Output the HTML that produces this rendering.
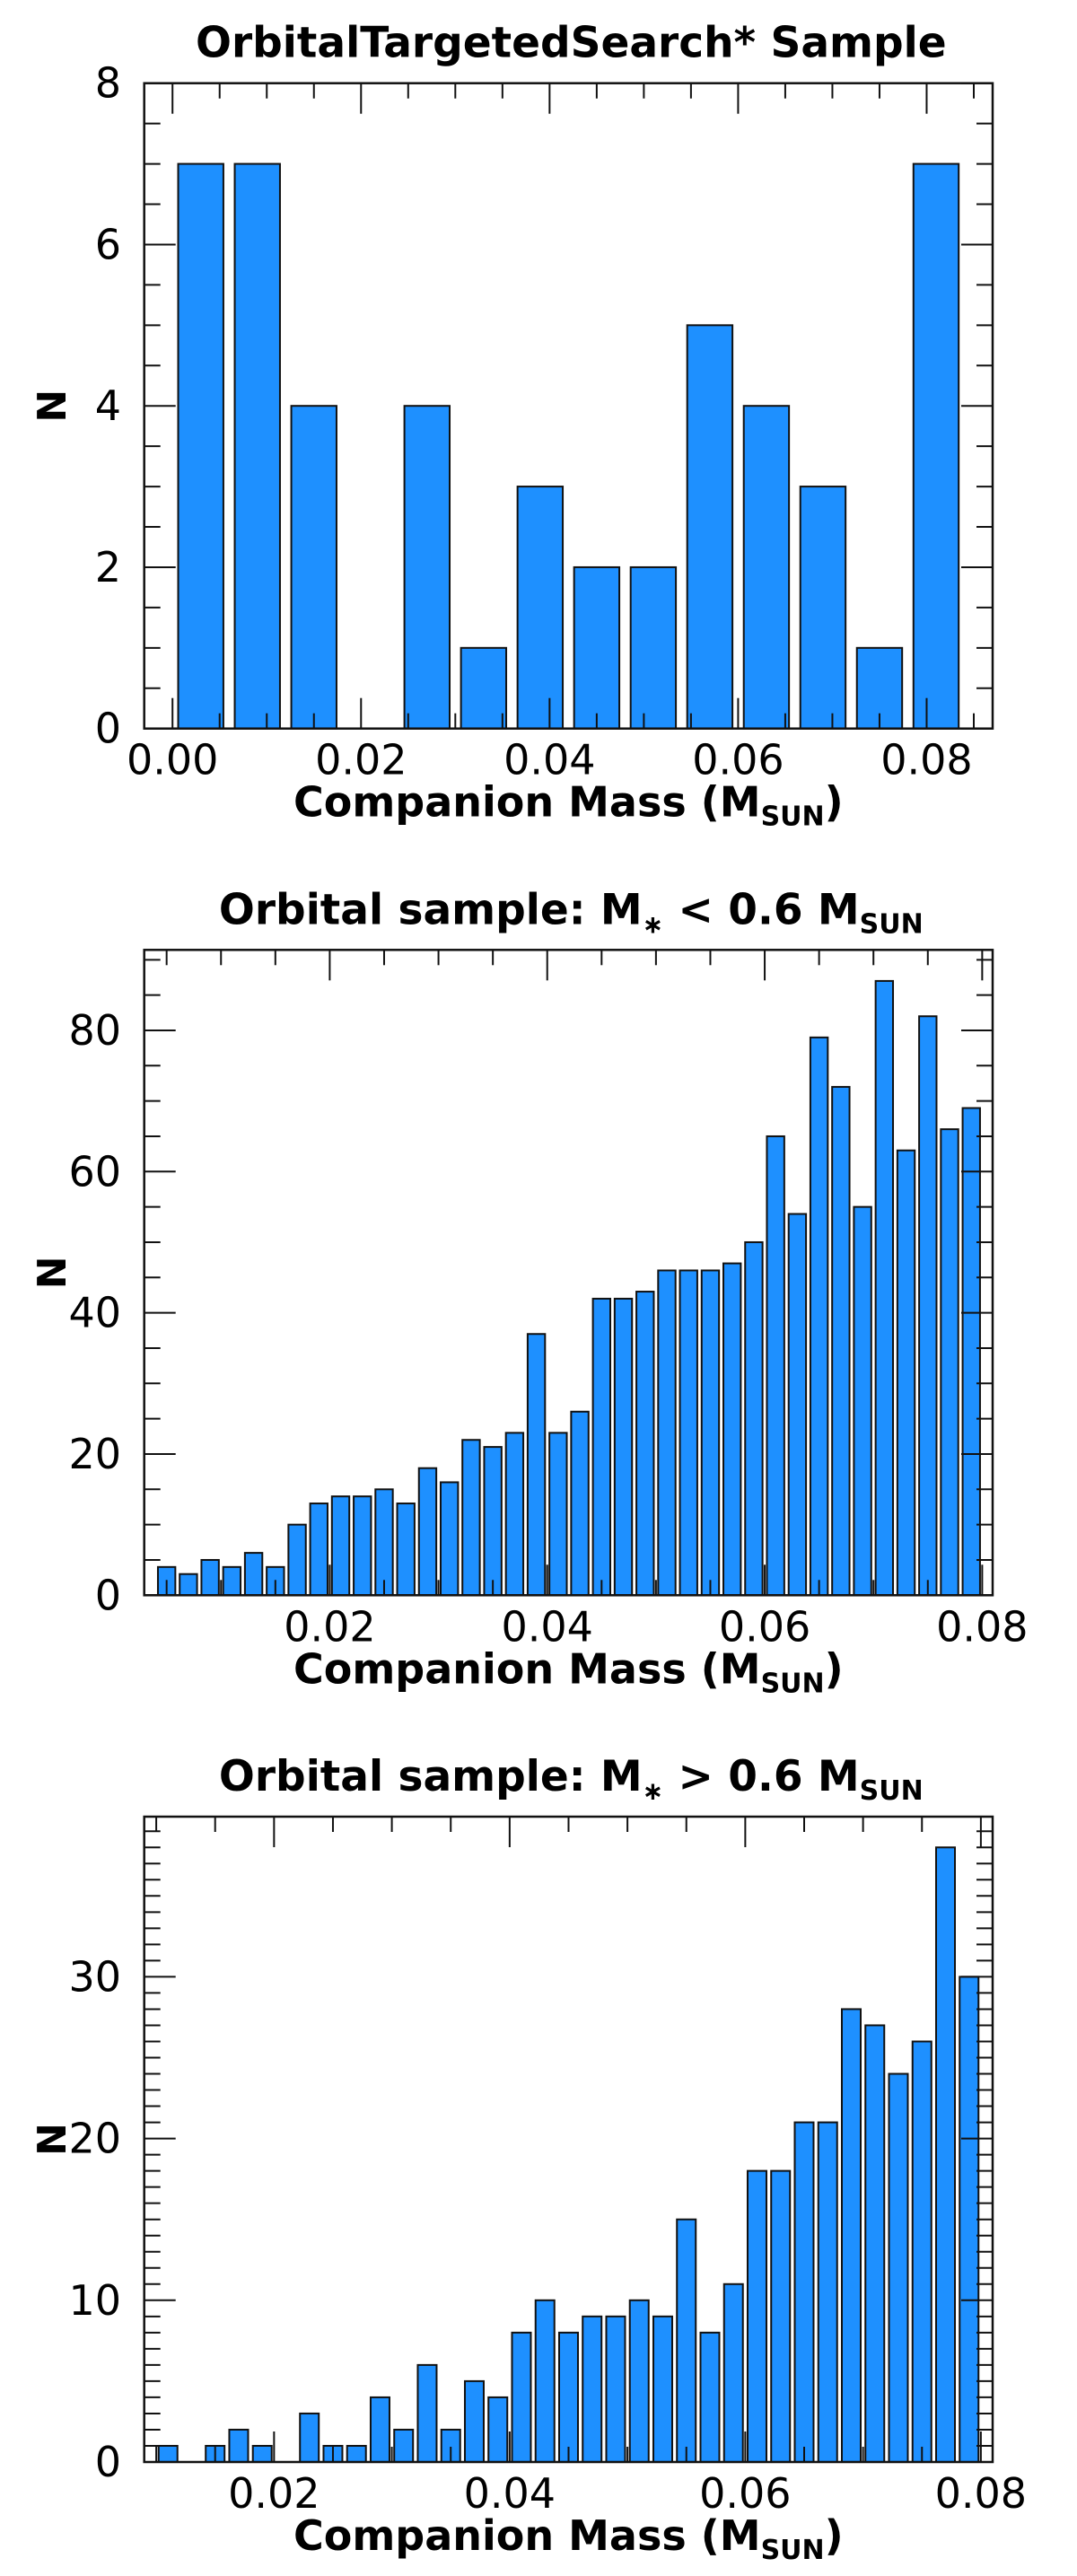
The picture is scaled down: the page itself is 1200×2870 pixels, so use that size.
<!DOCTYPE html>
<html><head><meta charset="utf-8">
<style>
html,body{margin:0;padding:0;background:#fff;}
svg{display:block;font-family:"DejaVu Sans","Liberation Sans",sans-serif;}
</style></head>
<body>
<svg id="fig" width="1200" height="2870" viewBox="0 0 1200 2870" xmlns="http://www.w3.org/2000/svg"></svg>
<script>
// Panel 1 data
const p1Centers = [0.003,0.009,0.015,0.021,0.027,0.033,0.039,0.045,0.051,0.057,0.063,0.069,0.075,0.081];
const p1Counts = [7,7,4,0,4,1,3,2,2,5,4,3,1,7];
const p1XTicks = [0.00,0.02,0.04,0.06,0.08];
const p1XTickLabels = ["0.00","0.02","0.04","0.06","0.08"];
const p1YTicks = [0,2,4,6,8];
const p1YTickLabels = ["0","2","4","6","8"];
// Panel 2 data
const p2Centers = [0.005,0.007,0.009,0.011,0.013,0.015,0.017,0.019,0.021,0.023,0.025,0.027,0.029,0.031,0.033,0.035,0.037,0.039,0.041,0.043,0.045,0.047,0.049,0.051,0.053,0.055,0.057,0.059,0.061,0.063,0.065,0.067,0.069,0.071,0.073,0.075,0.077,0.079];
const p2Counts = [4,3,5,4,6,4,10,13,14,14,15,13,18,16,22,21,23,37,23,26,42,42,43,46,46,46,47,50,65,54,79,72,55,87,63,82,66,69];
const p2XTicks = [0.02,0.04,0.06,0.08];
const p2XTickLabels = ["0.02","0.04","0.06","0.08"];
const p2YTicks = [0,20,40,60,80];
const p2YTickLabels = ["0","20","40","60","80"];
// Panel 3 data
const p3Centers = [0.011,0.013,0.015,0.017,0.019,0.021,0.023,0.025,0.027,0.029,0.031,0.033,0.035,0.037,0.039,0.041,0.043,0.045,0.047,0.049,0.051,0.053,0.055,0.057,0.059,0.061,0.063,0.065,0.067,0.069,0.071,0.073,0.075,0.077,0.079];
const p3Counts = [1,0,1,2,1,0,3,1,1,4,2,6,2,5,4,8,10,8,9,9,10,9,15,8,11,18,18,21,21,28,27,24,26,38,30];
const p3XTicks = [0.02,0.04,0.06,0.08];
const p3XTickLabels = ["0.02","0.04","0.06","0.08"];
const p3YTicks = [0,10,20,30];
const p3YTickLabels = ["0","10","20","30"];

const NS = "http://www.w3.org/2000/svg";
const svg = document.getElementById('fig');
function mk(tag, attrs, parent){
  const e = document.createElementNS(NS, tag);
  for (const k in attrs) e.setAttribute(k, attrs[k]);
  (parent||svg).appendChild(e);
  return e;
}
const L = 160.7, R = 1106, H = 719;

function panel(cfg){
  const T = cfg.top, B = T + H;
  const g = mk('g', {});
  
  
  const xs = v => L + (v - cfg.xmin) / (cfg.xmax - cfg.xmin) * (R - L);
  const ys = v => B - (v - cfg.ymin) / (cfg.ymax - cfg.ymin) * H;
  cfg.centers.forEach((c, i) => {
    const n = cfg.counts[i];
    if (n <= 0) return;
    const x0 = xs(c - cfg.bw / 2), x1 = xs(c + cfg.bw / 2);
    const r = mk('rect', {x: x0, y: ys(n), width: x1 - x0, height: ys(0) - ys(n), fill: '#1e90ff', stroke: '#111', 'stroke-width': 2}, g);
    
    
  });
  const eps = 1e-9;
  for (let v = Math.ceil((cfg.xmin - eps) / cfg.xminor) * cfg.xminor; v <= cfg.xmax + eps; v += cfg.xminor) {
    const major = Math.abs(v / cfg.xmajor - Math.round(v / cfg.xmajor)) < 1e-6;
    const len = major ? 34 : 17;
    const x = xs(v);
    mk('line', {x1: x, x2: x, y1: B, y2: B - len, stroke: '#111', 'stroke-width': 2}, g);
    mk('line', {x1: x, x2: x, y1: T, y2: T + len, stroke: '#111', 'stroke-width': 2}, g);
  }
  for (let v = cfg.ymin; v <= cfg.ymax + eps; v += cfg.yminor) {
    const major = Math.abs(v / cfg.ymajor - Math.round(v / cfg.ymajor)) < 1e-6;
    const len = major ? 35 : 18;
    const y = ys(v);
    mk('line', {x1: L, x2: L + len, y1: y, y2: y, stroke: '#111', 'stroke-width': 2}, g);
    mk('line', {x1: R, x2: R - len, y1: y, y2: y, stroke: '#111', 'stroke-width': 2}, g);
  }
  const fr = mk('rect', {x: L, y: T, width: R - L, height: H, fill: 'none', stroke: '#111', 'stroke-width': 2.5}, g);
  
  
  cfg.xticks.forEach((v, i) => {
    const t = mk('text', {x: xs(v), y: B + 51, 'text-anchor': 'middle', 'font-size': 46, fill: '#000'}, g);
    t.textContent = cfg.xlabels[i];
    
    
  });
  cfg.yticks.forEach((v, i) => {
    const t = mk('text', {x: 135, y: ys(v) + 16, 'text-anchor': 'end', 'font-size': 46, fill: '#000'}, g);
    t.textContent = cfg.ylabels[i];
    
    
  });
  const tt = mk('text', {x: (L + R) / 2 + 3, y: T - 29, 'text-anchor': 'middle', 'font-size': 47, 'font-weight': 'bold', fill: '#000'}, g);
  tt.innerHTML = cfg.title;
  
  
  const xt = mk('text', {x: (L + R) / 2, y: B + 98, 'text-anchor': 'middle', 'font-size': 46, 'font-weight': 'bold', fill: '#000'}, g);
  xt.innerHTML = 'Companion Mass (M<tspan font-size="30" dy="10">SUN</tspan><tspan dy="-10">)</tspan>';
  
  
  const yc = T + H / 2;
  const yt = mk('text', {x: 73, y: yc, 'text-anchor': 'middle', 'font-size': 44, 'font-weight': 'bold', fill: '#000', transform: 'rotate(-90 73 ' + yc + ')'}, g);
  yt.textContent = 'N';
  
  
}

panel({name: 'panel-targeted-search', top: 92.7, xmin: -0.0030, xmax: 0.0870, ymin: 0, ymax: 8,
  centers: p1Centers, counts: p1Counts, bw: 0.0048, xminor: 0.005, xmajor: 0.02, yminor: 0.5, ymajor: 2,
  xticks: p1XTicks, xlabels: p1XTickLabels, yticks: p1YTicks, ylabels: p1YTickLabels,
  title: 'OrbitalTargetedSearch* Sample'});
panel({name: 'panel-low-mass-hosts', top: 1058.3, xmin: 0.00294, xmax: 0.08096, ymin: 0, ymax: 91.4,
  centers: p2Centers, counts: p2Counts, bw: 0.0016, xminor: 0.005, xmajor: 0.02, yminor: 5, ymajor: 20,
  xticks: p2XTicks, xlabels: p2XTickLabels, yticks: p2YTicks, ylabels: p2YTickLabels,
  title: 'Orbital sample: M<tspan font-size="28" dy="10">∗</tspan><tspan dy="-10"> &lt; 0.6 M</tspan><tspan font-size="30" dy="10">SUN</tspan>'});
panel({name: 'panel-high-mass-hosts', top: 2024, xmin: 0.00898, xmax: 0.0810, ymin: 0, ymax: 39.9,
  centers: p3Centers, counts: p3Counts, bw: 0.0016, xminor: 0.005, xmajor: 0.02, yminor: 1, ymajor: 10,
  xticks: p3XTicks, xlabels: p3XTickLabels, yticks: p3YTicks, ylabels: p3YTickLabels,
  title: 'Orbital sample: M<tspan font-size="28" dy="10">∗</tspan><tspan dy="-10"> &gt; 0.6 M</tspan><tspan font-size="30" dy="10">SUN</tspan>'});
</script>
</body></html>
